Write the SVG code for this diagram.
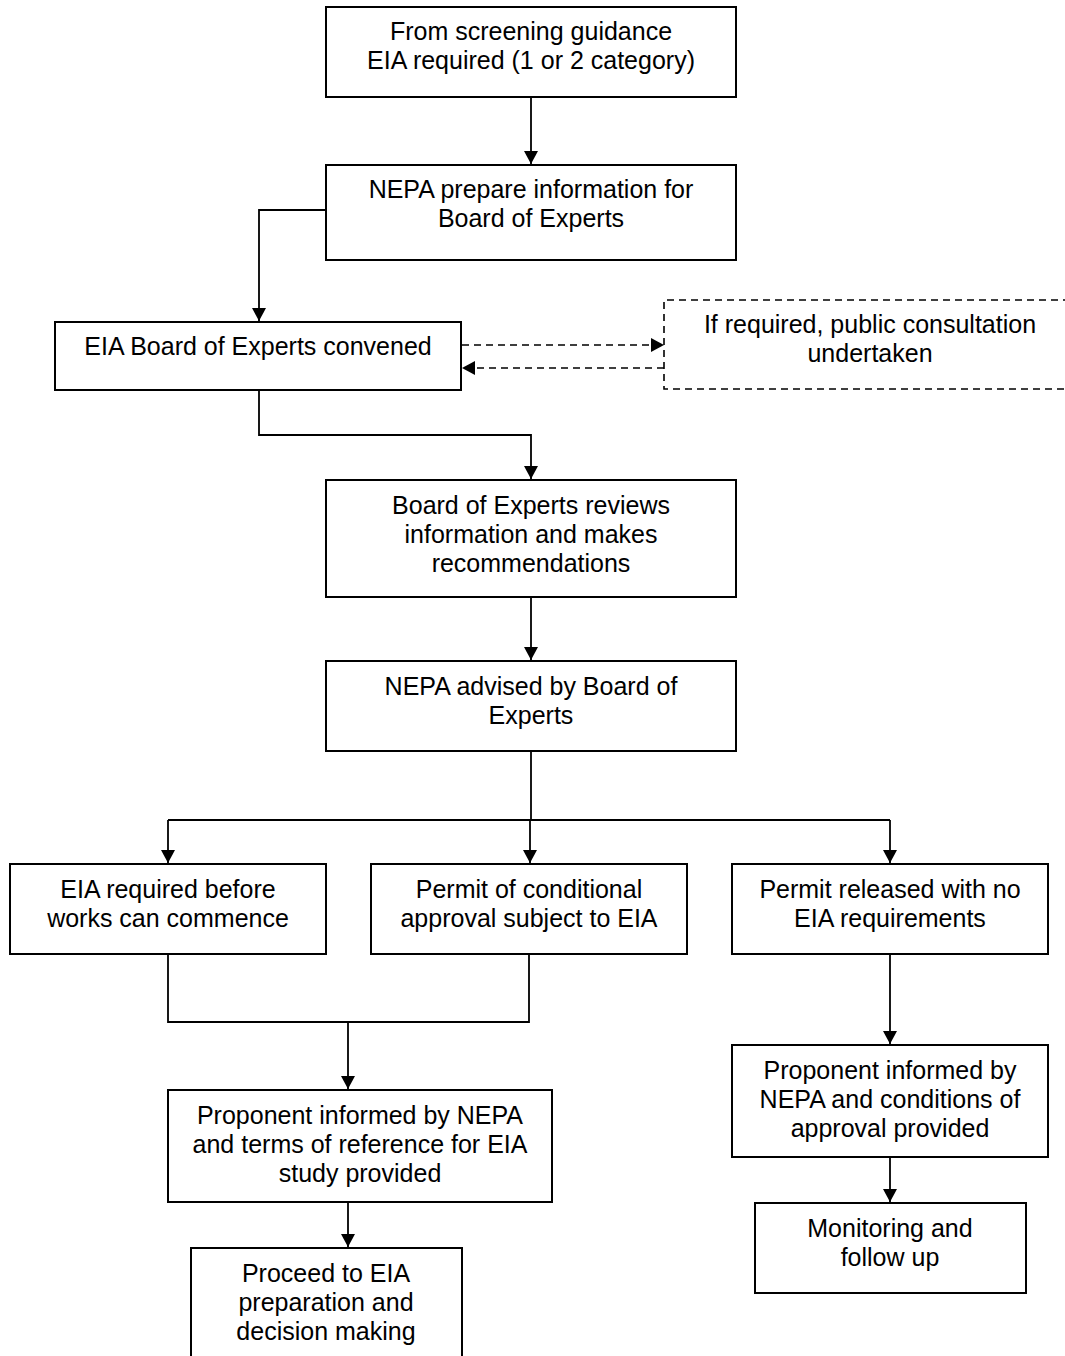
<svg xmlns="http://www.w3.org/2000/svg" width="1065" height="1356" viewBox="0 0 1065 1356">
<style>
.box{fill:#fff;stroke:#000;stroke-width:2}
.dbox{fill:none;stroke:#000;stroke-width:1.6;stroke-dasharray:7 5}
.ln{fill:none;stroke:#000;stroke-width:1.8}
.dl{fill:none;stroke:#000;stroke-width:1.6;stroke-dasharray:7 5}
text{font-family:"Liberation Sans",Arial,sans-serif;font-size:25px;fill:#000;text-anchor:middle}
</style>
<defs>
<marker id="ah" markerUnits="userSpaceOnUse" markerWidth="14" markerHeight="14" refX="13" refY="7" orient="auto" viewBox="0 0 14 14">
<path d="M0,0 L13,7 L0,14 z" fill="#000"/>
</marker>
</defs>
<g id="connectors">
<path class="ln" d="M531,97 V164" marker-end="url(#ah)"/>
<path class="ln" d="M326,210 H259 V321" marker-end="url(#ah)"/>
<path class="ln" d="M259,390 V435 H531 V479" marker-end="url(#ah)"/>
<path class="ln" d="M531,597 V660" marker-end="url(#ah)"/>
<path class="ln" d="M531,751 V820"/>
<path class="ln" d="M168,820 H890"/>
<path class="ln" d="M168,820 V863" marker-end="url(#ah)"/>
<path class="ln" d="M530,820 V863" marker-end="url(#ah)"/>
<path class="ln" d="M890,820 V863" marker-end="url(#ah)"/>
<path class="ln" d="M168,954 V1022 H529 V954"/>
<path class="ln" d="M348,1022 V1089" marker-end="url(#ah)"/>
<path class="ln" d="M348,1202 V1247" marker-end="url(#ah)"/>
<path class="ln" d="M890,954 V1044" marker-end="url(#ah)"/>
<path class="ln" d="M890,1157 V1202" marker-end="url(#ah)"/>
<path class="dl" d="M462,345 H664" marker-end="url(#ah)"/>
<path class="dl" d="M664,368 H462" marker-end="url(#ah)"/>
</g>
<g id="n1">
<rect class="box" x="326" y="7" width="410" height="90"/>
<text x="531" y="40">From screening guidance</text>
<text x="531" y="69">EIA required (1 or 2 category)</text>
</g>
<g id="n2">
<rect class="box" x="326" y="165" width="410" height="95"/>
<text x="531" y="198">NEPA prepare information for</text>
<text x="531" y="227">Board of Experts</text>
</g>
<g id="n3">
<rect class="box" x="55" y="322" width="406" height="68"/>
<text x="258" y="355">EIA Board of Experts convened</text>
</g>
<g id="n4">
<path class="dbox" d="M1070,300 H664 V389 H1070"/>
<text x="870" y="333">If required, public consultation</text>
<text x="870" y="362">undertaken</text>
</g>
<g id="n5">
<rect class="box" x="326" y="480" width="410" height="117"/>
<text x="531" y="514">Board of Experts reviews</text>
<text x="531" y="543">information and makes</text>
<text x="531" y="572">recommendations</text>
</g>
<g id="n6">
<rect class="box" x="326" y="661" width="410" height="90"/>
<text x="531" y="695">NEPA advised by Board of</text>
<text x="531" y="724">Experts</text>
</g>
<g id="n7">
<rect class="box" x="10" y="864" width="316" height="90"/>
<text x="168" y="898">EIA required before</text>
<text x="168" y="927">works can commence</text>
</g>
<g id="n8">
<rect class="box" x="371" y="864" width="316" height="90"/>
<text x="529" y="898">Permit of conditional</text>
<text x="529" y="927">approval subject to EIA</text>
</g>
<g id="n9">
<rect class="box" x="732" y="864" width="316" height="90"/>
<text x="890" y="898">Permit released with no</text>
<text x="890" y="927">EIA requirements</text>
</g>
<g id="n10">
<rect class="box" x="168" y="1090" width="384" height="112"/>
<text x="360" y="1124">Proponent informed by NEPA</text>
<text x="360" y="1153">and terms of reference for EIA</text>
<text x="360" y="1182">study provided</text>
</g>
<g id="n11">
<rect class="box" x="191" y="1248" width="271" height="120"/>
<text x="326" y="1282">Proceed to EIA</text>
<text x="326" y="1311">preparation and</text>
<text x="326" y="1340">decision making</text>
</g>
<g id="n12">
<rect class="box" x="732" y="1045" width="316" height="112"/>
<text x="890" y="1079">Proponent informed by</text>
<text x="890" y="1108">NEPA and conditions of</text>
<text x="890" y="1137">approval provided</text>
</g>
<g id="n13">
<rect class="box" x="755" y="1203" width="271" height="90"/>
<text x="890" y="1237">Monitoring and</text>
<text x="890" y="1266">follow up</text>
</g>
</svg>
